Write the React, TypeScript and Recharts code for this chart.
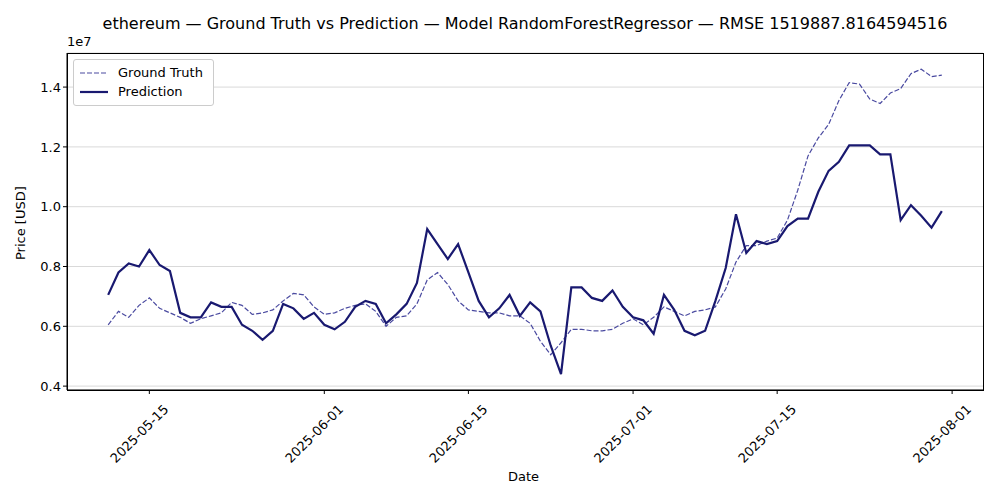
import React from "react";
import { LineChart, Line, XAxis, YAxis, CartesianGrid } from "recharts";

const startDate = "2025-05-11";
const groundTruth = [6.05,6.5,6.3,6.7,6.95,6.6,6.45,6.3,6.1,6.25,6.35,6.45,6.8,6.7,6.4,6.45,6.55,6.85,7.1,7.05,6.65,
6.4,6.45,6.6,6.7,6.75,6.5,6.0,6.3,6.35,6.75,7.55,7.8,7.4,6.85,6.55,6.5,6.45,6.45,6.35,6.35,6.1,5.5,5.05,5.45,5.9,5.9,5.85,5.85,5.9,6.1,
6.25,6.05,6.3,6.65,6.5,6.35,6.5,6.55,6.65,7.25,8.15,8.7,8.7,8.85,8.95,9.55,10.55,11.7,12.3,12.75,13.55,14.15,14.1,13.6,13.45,13.8,13.95,14.45,14.6,14.35,14.4];
const prediction = [7.05,7.8,8.1,8.0,8.55,8.05,7.85,6.45,6.3,6.3,6.8,6.65,6.65,6.05,5.85,5.55,5.85,6.75,6.6,6.25,6.45,
6.05,5.9,6.15,6.65,6.85,6.75,6.1,6.4,6.75,7.45,9.25,8.75,8.25,8.75,7.8,6.85,6.3,6.6,7.05,6.35,6.8,6.5,5.35,4.4,7.3,7.3,6.95,6.85,7.2,6.65,
6.3,6.2,5.75,7.05,6.55,5.85,5.7,5.85,6.85,7.95,9.75,8.45,8.85,8.75,8.85,9.35,9.6,9.6,10.5,11.2,11.5,12.05,12.05,12.05,11.75,11.75,9.55,10.05,9.7,9.3,9.85];
const xTicks = [4, 21, 35, 51, 65, 82];
const xTickLabels = ["2025-05-15", "2025-06-01", "2025-06-15", "2025-07-01", "2025-07-15", "2025-08-01"];
const yTicks = [4e6, 6e6, 8e6, 10e6, 12e6, 14e6];

const data = groundTruth.map((g, i) => ({ day: i, gt: g * 1e6, pred: prediction[i] * 1e6 }));

const font = "DejaVu Sans, sans-serif";

const XTick = (props: any) => {
  const { x, y, payload } = props;
  const label = xTickLabels[xTicks.indexOf(payload.value)] ?? "";
  return (
    <g transform={`translate(${x + 10},${y + 10})`}>
      <text transform="rotate(-45)" textAnchor="end" dy={10} dx={4} fontSize={13} fill="#000" fontFamily={font}>{label}</text>
    </g>
  );
};

export default function App() {
  return (
    <div style={{ position: "absolute", left: 0, top: 0, width: 1000, height: 500, fontFamily: font, background: "#fff" }}>
      <div style={{ position: "absolute", top: 14, width: 1000, left: 25, textAlign: "center", fontSize: 16 }}>
        ethereum — Ground Truth vs Prediction — Model RandomForestRegressor — RMSE 1519887.8164594516
      </div>
      <div style={{ position: "absolute", top: 34, left: 67, fontSize: 13 }}>1e7</div>
      <div style={{ position: "absolute", top: 469, left: 508, fontSize: 13 }}>Date</div>
      <div style={{ position: "absolute", top: 220, left: 13, fontSize: 13, transform: "rotate(-90deg)", transformOrigin: "left top", whiteSpace: "nowrap", marginTop: 40 }}>Price [USD]</div>
      <div style={{ position: "absolute", top: 53, left: 67, width: 915, height: 336, border: "1px solid #000", zIndex: 1, pointerEvents: "none" }} />
      <div style={{ position: "absolute", top: 59, left: 73, width: 139, height: 45, border: "1px solid #ccc", borderRadius: 3, background: "#fff", zIndex: 2, fontSize: 13 }}>
        <div style={{ display: "flex", alignItems: "center", marginTop: 5, marginLeft: 6 }}>
          <svg width={30} height={6}><line x1={0} y1={3} x2={28} y2={3} stroke="#4a4aa0" strokeWidth={1.2} strokeDasharray="5 2" /></svg>
          <span style={{ marginLeft: 8 }}>Ground Truth</span>
        </div>
        <div style={{ display: "flex", alignItems: "center", marginTop: 4, marginLeft: 6 }}>
          <svg width={30} height={6}><line x1={0} y1={3} x2={28} y2={3} stroke="#191970" strokeWidth={2.2} /></svg>
          <span style={{ marginLeft: 8 }}>Prediction</span>
        </div>
      </div>
      <LineChart width={1000} height={500} data={data} margin={{ top: 53, right: 17, left: 15, bottom: 30 }}>
        <CartesianGrid horizontal vertical={false} stroke="#d9d9d9" />
        <XAxis dataKey="day" type="number" domain={[-4, 85]} ticks={xTicks} tick={<XTick />} stroke="#000" tickLine={{ stroke: "#000" }} tickSize={4} height={80} interval={0} />
        <YAxis type="number" domain={[3.87e6, 15.14e6]} ticks={yTicks} tickFormatter={(v: number) => (v / 1e7).toFixed(1)} tick={{ fontSize: 13, fill: "#000", fontFamily: font }} stroke="#000" tickSize={4} width={52} />
        <Line dataKey="gt" stroke="#4a4aa0" strokeWidth={1.2} strokeDasharray="5 2" dot={false} isAnimationActive={false} />
        <Line dataKey="pred" stroke="#191970" strokeWidth={2.2} dot={false} isAnimationActive={false} />
      </LineChart>
    </div>
  );
}
